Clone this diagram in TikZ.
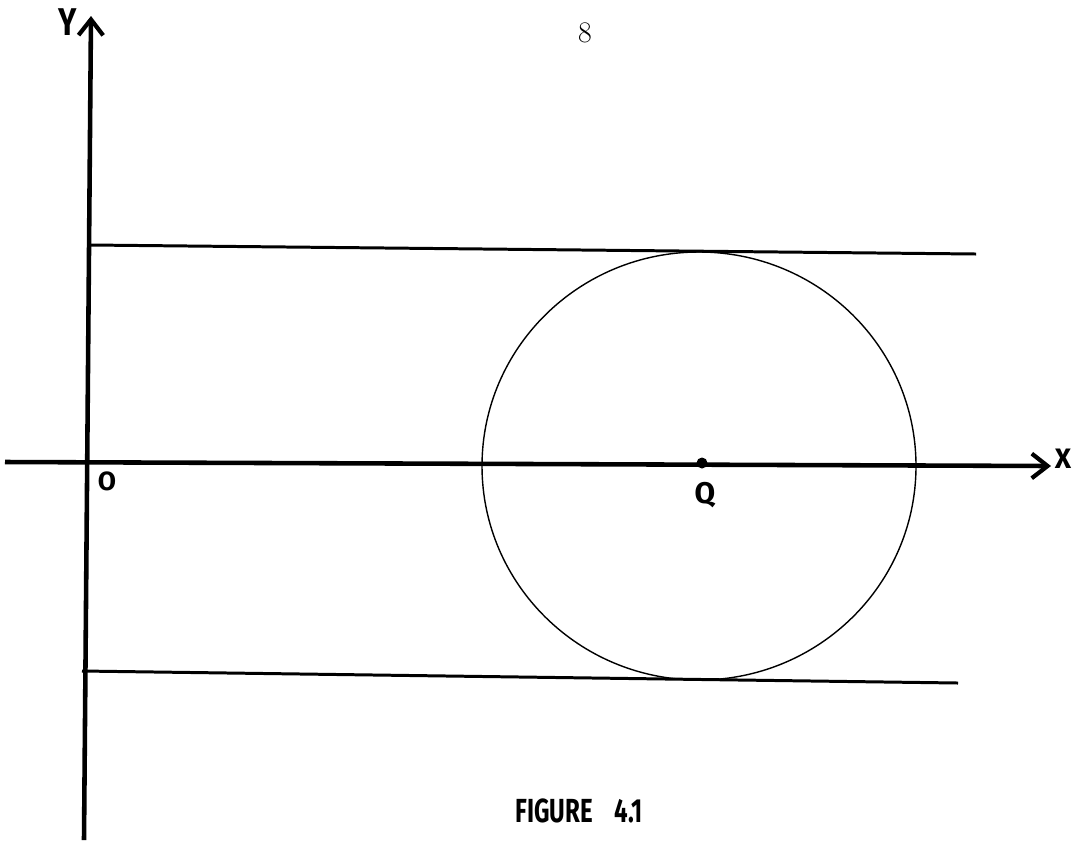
\documentclass[tikz,border=0pt]{standalone}
\usepackage{fontspec}
\newfontfamily\hand{Fira Sans}
\usetikzlibrary{arrows.meta}
\begin{document}
\begin{tikzpicture}[x=0.02cm,y=-0.02cm,
  axis/.style={line width=2.6pt},
  bound/.style={line width=1.7pt},
  lbl/.style={inner sep=0pt},
  arr/.style={-{Straight Barb[length=9pt,width=14pt,line width=2.4pt]}}]
\useasboundingbox (0,0) rectangle (1074,846);
% coordinates
\coordinate (ybot) at (84,840);
\coordinate (ytop) at (91,16);
\coordinate (xl) at (5,462);
\coordinate (xr) at (1051,466);
\coordinate (t1) at (90,245);
\coordinate (t2) at (976,254);
\coordinate (b1) at (82,671);
\coordinate (b2) at (958,683);
\coordinate (Q) at (702,463);
\coordinate (C) at (699,466);
% axes
\draw[axis,arr] (ybot) -- (ytop);
\draw[axis,arr] (xl) -- (xr);
% bounding lines
\draw[bound] (t1) -- (t2);
\draw[bound] (b1) -- (b2);
% circle
\draw[line width=0.8pt] (C) ellipse[x radius=217, y radius=214];
\fill (Q) circle[radius=5.5];
% labels
\node[lbl, font=\hand\bfseries\fontsize{22}{22}\selectfont, xscale=0.8] (ylab) at (68,22) {Y};
\node[lbl, font=\hand\bfseries\fontsize{16}{16}\selectfont] (xlab) at (1063,459) {X};
\node[lbl, font=\hand\bfseries\fontsize{15}{15}\selectfont] (olab) at (107,481) {O};
\node[lbl, font=\hand\bfseries\fontsize{17}{17}\selectfont] (qlab) at (705,495) {Q};
\node[lbl, font=\fontsize{17}{17}\selectfont] (pg) at (585,33) {8};
\node[lbl, font=\hand\bfseries\fontsize{19}{19}\selectfont, xscale=0.72] (cap) at (579,811) {FIGURE\hspace{0.9em}4.1};
\end{tikzpicture}
\end{document}
